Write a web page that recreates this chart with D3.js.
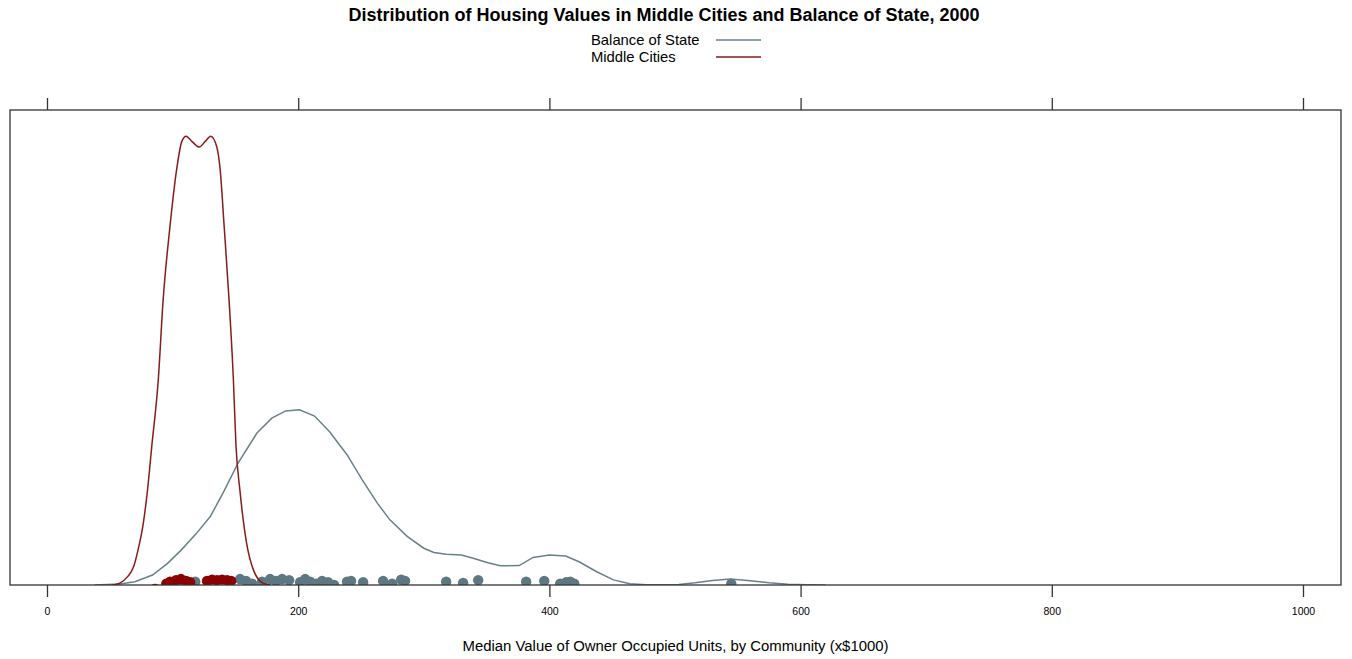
<!DOCTYPE html>
<html><head><meta charset="utf-8">
<script src="https://cdn.jsdelivr.net/npm/d3@7"></script>
<style>body{margin:0;background:#fff;}svg{display:block;font-family:"Liberation Sans",Arial,Helvetica,sans-serif;}</style>
</head><body><div id="chart"></div>
<script>
// ---- data ----
const title = "Distribution of Housing Values in Middle Cities and Balance of State, 2000";
const xLabel = "Median Value of Owner Occupied Units, by Community (x$1000)";
const seriesNames = ["Balance of State", "Middle Cities"];
const xTicks = [0, 200, 400, 600, 800, 1000];

// density curves (value in $1000, density x 1e-3)
const balanceX = [38, 58, 70, 84, 96, 107, 119, 130, 140, 152, 167, 179, 190, 201, 213, 225, 239, 251, 263, 273, 287, 300, 308, 318, 330, 340, 351, 361, 376, 387, 400, 413, 424, 438, 451, 464, 477, 492, 503, 516, 530, 544, 560, 575, 590, 605, 620];
const balanceD = [0, 0.04, 0.12, 0.37, 0.80, 1.30, 1.91, 2.53, 3.39, 4.50, 5.61, 6.17, 6.44, 6.48, 6.25, 5.67, 4.81, 3.89, 3.03, 2.41, 1.79, 1.36, 1.20, 1.14, 1.11, 0.98, 0.82, 0.71, 0.72, 1.02, 1.11, 1.07, 0.85, 0.48, 0.19, 0.05, 0.01, 0.01, 0.02, 0.08, 0.17, 0.22, 0.16, 0.08, 0.03, 0.01, 0];
const middleX = [52, 58, 64, 69, 72.5, 76.7, 80, 83.4, 88.6, 92.4, 98, 103.3, 107.3, 110.7, 115.5, 121.3, 125.8, 130.4, 135.2, 137.8, 141, 145, 148.4, 150.5, 153.6, 158.9, 164.4, 172, 178];
const middleD = [0, 0.07, 0.30, 0.68, 1.30, 2.29, 3.50, 5.12, 7.59, 10.5, 13.3, 15.4, 16.4, 16.6, 16.4, 16.2, 16.4, 16.6, 16.2, 15.4, 13.3, 10.5, 7.59, 5.12, 3.50, 1.55, 0.55, 0.07, 0];

// individual community values (rug) and their vertical jitter (density units)
const balanceVals = [104, 118, 153.7, 158.5, 163.3, 171.2, 177.6, 182.4, 187.2, 192.8, 201.5, 205.5, 209.5, 214.3, 219.0, 223.8, 228.6, 238.9, 242.1, 251.7, 267.6, 274.8, 282.0, 285.1, 317.8, 331.3, 343.3, 381.5, 395.9, 408.6, 413.4, 416.6, 419.8, 544.8];
const balanceJit = [0.10, 0.12, 0.22, 0.15, 0.05, 0.12, 0.22, 0.15, 0.22, 0.18, 0.10, 0.22, 0.12, 0.05, 0.15, 0.10, 0.00, 0.12, 0.15, 0.10, 0.15, 0.05, 0.20, 0.15, 0.12, 0.08, 0.18, 0.12, 0.15, 0.05, 0.10, 0.12, 0.05, 0.05];
const middleVals = [86.0, 95.0, 98.0, 102.7, 106.7, 110.7, 113.9, 127.4, 131.4, 135.4, 139.4, 143.4, 146.6];
const middleJit = [-0.15, 0.05, 0.12, 0.18, 0.22, 0.15, 0.10, 0.15, 0.20, 0.18, 0.20, 0.18, 0.15];

// ---- drawing ----
const W = 1352, H = 659;
const panel = {left: 10, right: 1341, top: 110, bottom: 585};
const colBlue = "#6a8089", colBlueDot = "#5d7882";
const colRed = "#8b1a1a", colRedDot = "#8b0000";

const svg = d3.select("#chart").append("svg").attr("width", W).attr("height", H);

const x = d3.scaleLinear().domain([0, 1000]).range([47, 1303]);
const y = d3.scaleLinear().domain([0, 17.57]).range([panel.bottom, panel.top]);

svg.append("text").attr("x", 664).attr("y", 21).attr("text-anchor", "middle")
  .attr("font-size", 18).attr("font-weight", "bold").text(title);

// legend
const legend = svg.append("g");
[[seriesNames[0], colBlue, 45], [seriesNames[1], colRed, 62]].forEach(([name, c, yy]) => {
  legend.append("text").attr("x", 591).attr("y", yy).attr("font-size", 14.8).attr("fill", "#000").text(name);
  legend.append("line").attr("x1", 716).attr("x2", 761).attr("y1", yy - 5).attr("y2", yy - 5)
    .attr("stroke", c).attr("stroke-width", 1.5);
});

svg.append("defs").append("clipPath").attr("id", "clip").append("rect")
  .attr("x", panel.left).attr("y", panel.top)
  .attr("width", panel.right - panel.left).attr("height", panel.bottom - panel.top);

const plot = svg.append("g").attr("clip-path", "url(#clip)");

// rug points
const balancePts = balanceVals.map((v, i) => ({v, j: balanceJit[i]}));
const middlePts = middleVals.map((v, i) => ({v, j: middleJit[i]}));
plot.selectAll("circle.b").data(balancePts).join("circle").attr("class", "b")
  .attr("cx", d => x(d.v)).attr("cy", d => y(d.j)).attr("r", 5.2).attr("fill", colBlueDot);
plot.selectAll("circle.m").data(middlePts).join("circle").attr("class", "m")
  .attr("cx", d => x(d.v)).attr("cy", d => y(d.j)).attr("r", 5.2).attr("fill", colRedDot);

// density lines
const balLine = d3.line().x(d => x(d[0])).y(d => y(d[1])).curve(d3.curveLinear);
const midLine = d3.line().x(d => x(d[0])).y(d => y(d[1])).curve(d3.curveMonotoneX);
plot.append("path").datum(balanceX.map((v, i) => [v, balanceD[i]]))
  .attr("d", balLine).attr("fill", "none").attr("stroke", colBlue).attr("stroke-width", 1.5);
plot.append("path").datum(middleX.map((v, i) => [v, middleD[i]]))
  .attr("d", midLine).attr("fill", "none").attr("stroke", colRed).attr("stroke-width", 1.5);

// panel border
svg.append("rect").attr("x", panel.left).attr("y", panel.top)
  .attr("width", panel.right - panel.left).attr("height", panel.bottom - panel.top)
  .attr("fill", "none").attr("stroke", "#333").attr("stroke-width", 1.3);

// axes
const axB = d3.axisBottom(x).tickValues(xTicks).tickSize(12).tickPadding(11).tickFormat(d3.format("d"));
const gb = svg.append("g").attr("transform", `translate(0,${panel.bottom})`).call(axB);
gb.select(".domain").remove();
gb.selectAll(".tick line").attr("stroke", "#333").attr("stroke-width", 1.3);
gb.selectAll(".tick text").attr("font-size", 10.5).attr("fill", "#000")
  .attr("font-family", "'Liberation Sans',Arial,sans-serif");

const axT = d3.axisTop(x).tickValues(xTicks).tickSize(12).tickFormat("");
const gt = svg.append("g").attr("transform", `translate(0,${panel.top})`).call(axT);
gt.select(".domain").remove();
gt.selectAll(".tick line").attr("stroke", "#333").attr("stroke-width", 1.3);

svg.append("text").attr("x", 675.5).attr("y", 651).attr("text-anchor", "middle")
  .attr("font-size", 14.9).attr("fill", "#000").text(xLabel);
</script></body></html>
